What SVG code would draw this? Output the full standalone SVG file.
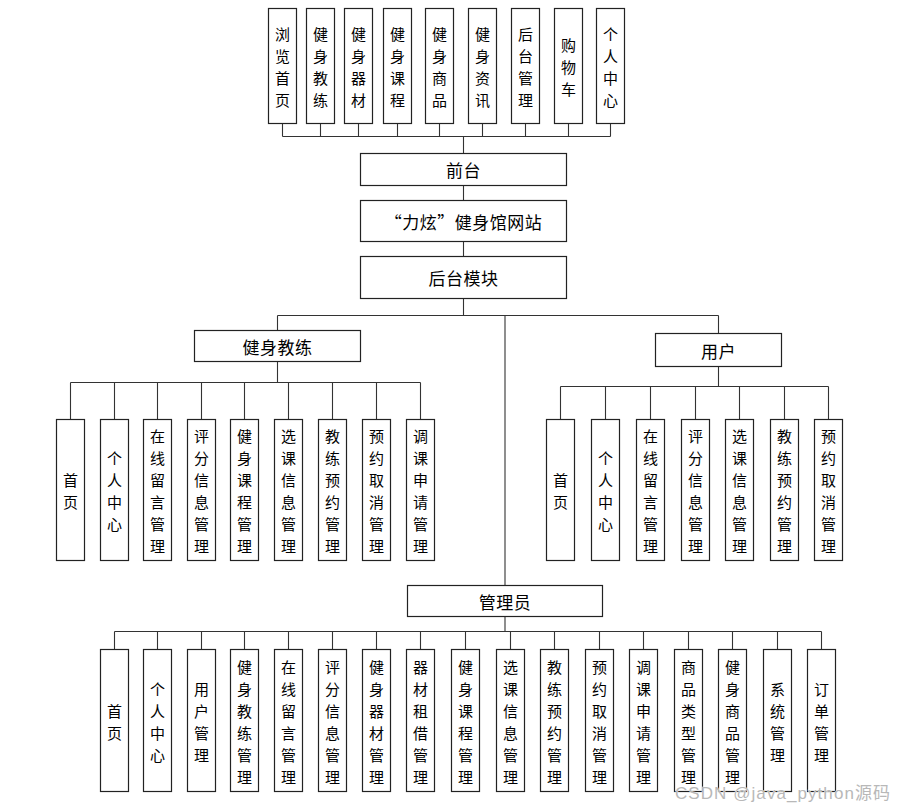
<svg xmlns="http://www.w3.org/2000/svg" width="904" height="810" viewBox="0 0 904 810">
<style>
.b{fill:#fff;stroke:#222;stroke-width:1.2}
.c{fill:none;stroke:#333;stroke-width:1.1}
.v{font-family:"Noto Sans CJK SC","Noto Sans",sans-serif;font-size:15px;fill:#000;text-anchor:middle;dominant-baseline:central}
.h{font-family:"Noto Sans CJK SC","Noto Sans",sans-serif;font-size:17px;fill:#000;text-anchor:middle;dominant-baseline:central;letter-spacing:0.5px}
.wm{font-family:"Liberation Sans","Noto Sans CJK SC",sans-serif;font-size:17px;fill:#b8b8b8;stroke:#fff;stroke-width:0.6;paint-order:stroke}
</style>
<rect width="904" height="810" fill="#fff"/>
<g id="connectors">
<path class="c" d="M282.5 123.5V136.5M320.5 123.5V136.5M358.5 123.5V136.5M397.5 123.5V136.5M439.5 123.5V136.5M482.5 123.5V136.5M525.5 123.5V136.5M568.5 123.5V136.5M610.5 123.5V136.5M282.5 136.5H610.5M463.5 136.5V153.5"/>
<path class="c" d="M463.5 185.5V200.5M463.5 241.5V256.5M463.5 298.5V315.5M277.5 315.5H718.5M277.5 315.5V330.5M718.5 315.5V333.5M505 315.5V585.5"/>
<path class="c" d="M277.5 361.5V382.5M70.5 382.5H420.5M70.5 382.5V419.5M114.5 382.5V419.5M157.5 382.5V419.5M201.5 382.5V419.5M244.5 382.5V419.5M288.5 382.5V419.5M332.5 382.5V419.5M376.5 382.5V419.5M420.5 382.5V419.5"/>
<path class="c" d="M718.5 366.5V386.5M560.5 386.5H828.5M560.5 386.5V419.5M605.5 386.5V419.5M650.5 386.5V419.5M695.5 386.5V419.5M739.5 386.5V419.5M784.5 386.5V419.5M828.5 386.5V419.5"/>
<path class="c" d="M505 616.5V631.5M114.5 631.5H821.5M114.5 631.5V649.5M157.5 631.5V649.5M201.5 631.5V649.5M244.5 631.5V649.5M288.5 631.5V649.5M332.5 631.5V649.5M376.5 631.5V649.5M420.5 631.5V649.5M465.5 631.5V649.5M510.5 631.5V649.5M554.5 631.5V649.5M599.5 631.5V649.5M643.5 631.5V649.5M688.5 631.5V649.5M732.5 631.5V649.5M777.5 631.5V649.5M821.5 631.5V649.5"/>
</g>
<g id="top">
<g id="t1"><rect class="b" x="268.5" y="8.5" width="28" height="115"/><text class="v"><tspan x="282.5" y="33">浏</tspan><tspan x="282.5" y="55">览</tspan><tspan x="282.5" y="77">首</tspan><tspan x="282.5" y="99">页</tspan></text></g>
<g id="t2"><rect class="b" x="306.5" y="8.5" width="28" height="115"/><text class="v"><tspan x="320.5" y="33">健</tspan><tspan x="320.5" y="55">身</tspan><tspan x="320.5" y="77">教</tspan><tspan x="320.5" y="99">练</tspan></text></g>
<g id="t3"><rect class="b" x="344.5" y="8.5" width="28" height="115"/><text class="v"><tspan x="358.5" y="33">健</tspan><tspan x="358.5" y="55">身</tspan><tspan x="358.5" y="77">器</tspan><tspan x="358.5" y="99">材</tspan></text></g>
<g id="t4"><rect class="b" x="383.5" y="8.5" width="28" height="115"/><text class="v"><tspan x="397.5" y="33">健</tspan><tspan x="397.5" y="55">身</tspan><tspan x="397.5" y="77">课</tspan><tspan x="397.5" y="99">程</tspan></text></g>
<g id="t5"><rect class="b" x="425.5" y="8.5" width="28" height="115"/><text class="v"><tspan x="439.5" y="33">健</tspan><tspan x="439.5" y="55">身</tspan><tspan x="439.5" y="77">商</tspan><tspan x="439.5" y="99">品</tspan></text></g>
<g id="t6"><rect class="b" x="468.5" y="8.5" width="28" height="115"/><text class="v"><tspan x="482.5" y="33">健</tspan><tspan x="482.5" y="55">身</tspan><tspan x="482.5" y="77">资</tspan><tspan x="482.5" y="99">讯</tspan></text></g>
<g id="t7"><rect class="b" x="511.5" y="8.5" width="28" height="115"/><text class="v"><tspan x="525.5" y="33">后</tspan><tspan x="525.5" y="55">台</tspan><tspan x="525.5" y="77">管</tspan><tspan x="525.5" y="99">理</tspan></text></g>
<g id="t8"><rect class="b" x="554.5" y="8.5" width="28" height="115"/><text class="v"><tspan x="568.5" y="44">购</tspan><tspan x="568.5" y="66">物</tspan><tspan x="568.5" y="88">车</tspan></text></g>
<g id="t9"><rect class="b" x="596.5" y="8.5" width="28" height="115"/><text class="v"><tspan x="610.5" y="33">个</tspan><tspan x="610.5" y="55">人</tspan><tspan x="610.5" y="77">中</tspan><tspan x="610.5" y="99">心</tspan></text></g>
</g>
<g id="qiantai"><rect class="b" x="360.5" y="153.5" width="206" height="32"/><text class="h" x="463.5" y="169.5">前台</text></g>
<g id="site"><rect class="b" x="360.5" y="200.5" width="206" height="41"/><text class="h" x="463.5" y="221">“力炫”健身馆网站</text></g>
<g id="houtai"><rect class="b" x="360.5" y="256.5" width="206" height="42"/><text class="h" x="463.5" y="277.5">后台模块</text></g>
<g id="coach"><rect class="b" x="194.5" y="330.5" width="166" height="31"/><text class="h" x="277.5" y="346">健身教练</text></g>
<g id="user"><rect class="b" x="655.5" y="333.5" width="126" height="33"/><text class="h" x="718.5" y="350">用户</text></g>
<g id="admin"><rect class="b" x="407.5" y="585.5" width="195" height="31"/><text class="h" x="505" y="601">管理员</text></g>
<g id="coach-children">
<g id="c1"><rect class="b" x="56.5" y="419.5" width="28" height="141"/><text class="v"><tspan x="70.5" y="479">首</tspan><tspan x="70.5" y="501">页</tspan></text></g>
<g id="c2"><rect class="b" x="100.5" y="419.5" width="28" height="141"/><text class="v"><tspan x="114.5" y="457">个</tspan><tspan x="114.5" y="479">人</tspan><tspan x="114.5" y="501">中</tspan><tspan x="114.5" y="523">心</tspan></text></g>
<g id="c3"><rect class="b" x="143.5" y="419.5" width="28" height="141"/><text class="v"><tspan x="157.5" y="435">在</tspan><tspan x="157.5" y="457">线</tspan><tspan x="157.5" y="479">留</tspan><tspan x="157.5" y="501">言</tspan><tspan x="157.5" y="523">管</tspan><tspan x="157.5" y="545">理</tspan></text></g>
<g id="c4"><rect class="b" x="187.5" y="419.5" width="28" height="141"/><text class="v"><tspan x="201.5" y="435">评</tspan><tspan x="201.5" y="457">分</tspan><tspan x="201.5" y="479">信</tspan><tspan x="201.5" y="501">息</tspan><tspan x="201.5" y="523">管</tspan><tspan x="201.5" y="545">理</tspan></text></g>
<g id="c5"><rect class="b" x="230.5" y="419.5" width="28" height="141"/><text class="v"><tspan x="244.5" y="435">健</tspan><tspan x="244.5" y="457">身</tspan><tspan x="244.5" y="479">课</tspan><tspan x="244.5" y="501">程</tspan><tspan x="244.5" y="523">管</tspan><tspan x="244.5" y="545">理</tspan></text></g>
<g id="c6"><rect class="b" x="274.5" y="419.5" width="28" height="141"/><text class="v"><tspan x="288.5" y="435">选</tspan><tspan x="288.5" y="457">课</tspan><tspan x="288.5" y="479">信</tspan><tspan x="288.5" y="501">息</tspan><tspan x="288.5" y="523">管</tspan><tspan x="288.5" y="545">理</tspan></text></g>
<g id="c7"><rect class="b" x="318.5" y="419.5" width="28" height="141"/><text class="v"><tspan x="332.5" y="435">教</tspan><tspan x="332.5" y="457">练</tspan><tspan x="332.5" y="479">预</tspan><tspan x="332.5" y="501">约</tspan><tspan x="332.5" y="523">管</tspan><tspan x="332.5" y="545">理</tspan></text></g>
<g id="c8"><rect class="b" x="362.5" y="419.5" width="28" height="141"/><text class="v"><tspan x="376.5" y="435">预</tspan><tspan x="376.5" y="457">约</tspan><tspan x="376.5" y="479">取</tspan><tspan x="376.5" y="501">消</tspan><tspan x="376.5" y="523">管</tspan><tspan x="376.5" y="545">理</tspan></text></g>
<g id="c9"><rect class="b" x="406.5" y="419.5" width="28" height="141"/><text class="v"><tspan x="420.5" y="435">调</tspan><tspan x="420.5" y="457">课</tspan><tspan x="420.5" y="479">申</tspan><tspan x="420.5" y="501">请</tspan><tspan x="420.5" y="523">管</tspan><tspan x="420.5" y="545">理</tspan></text></g>
</g>
<g id="user-children">
<g id="u1"><rect class="b" x="546.5" y="419.5" width="28" height="141"/><text class="v"><tspan x="560.5" y="479">首</tspan><tspan x="560.5" y="501">页</tspan></text></g>
<g id="u2"><rect class="b" x="591.5" y="419.5" width="28" height="141"/><text class="v"><tspan x="605.5" y="457">个</tspan><tspan x="605.5" y="479">人</tspan><tspan x="605.5" y="501">中</tspan><tspan x="605.5" y="523">心</tspan></text></g>
<g id="u3"><rect class="b" x="636.5" y="419.5" width="28" height="141"/><text class="v"><tspan x="650.5" y="435">在</tspan><tspan x="650.5" y="457">线</tspan><tspan x="650.5" y="479">留</tspan><tspan x="650.5" y="501">言</tspan><tspan x="650.5" y="523">管</tspan><tspan x="650.5" y="545">理</tspan></text></g>
<g id="u4"><rect class="b" x="681.5" y="419.5" width="28" height="141"/><text class="v"><tspan x="695.5" y="435">评</tspan><tspan x="695.5" y="457">分</tspan><tspan x="695.5" y="479">信</tspan><tspan x="695.5" y="501">息</tspan><tspan x="695.5" y="523">管</tspan><tspan x="695.5" y="545">理</tspan></text></g>
<g id="u5"><rect class="b" x="725.5" y="419.5" width="28" height="141"/><text class="v"><tspan x="739.5" y="435">选</tspan><tspan x="739.5" y="457">课</tspan><tspan x="739.5" y="479">信</tspan><tspan x="739.5" y="501">息</tspan><tspan x="739.5" y="523">管</tspan><tspan x="739.5" y="545">理</tspan></text></g>
<g id="u6"><rect class="b" x="770.5" y="419.5" width="28" height="141"/><text class="v"><tspan x="784.5" y="435">教</tspan><tspan x="784.5" y="457">练</tspan><tspan x="784.5" y="479">预</tspan><tspan x="784.5" y="501">约</tspan><tspan x="784.5" y="523">管</tspan><tspan x="784.5" y="545">理</tspan></text></g>
<g id="u7"><rect class="b" x="814.5" y="419.5" width="28" height="141"/><text class="v"><tspan x="828.5" y="435">预</tspan><tspan x="828.5" y="457">约</tspan><tspan x="828.5" y="479">取</tspan><tspan x="828.5" y="501">消</tspan><tspan x="828.5" y="523">管</tspan><tspan x="828.5" y="545">理</tspan></text></g>
</g>
<g id="admin-children">
<g id="a1"><rect class="b" x="100.5" y="649.5" width="28" height="142"/><text class="v"><tspan x="114.5" y="709.5">首</tspan><tspan x="114.5" y="731.5">页</tspan></text></g>
<g id="a2"><rect class="b" x="143.5" y="649.5" width="28" height="142"/><text class="v"><tspan x="157.5" y="687.5">个</tspan><tspan x="157.5" y="709.5">人</tspan><tspan x="157.5" y="731.5">中</tspan><tspan x="157.5" y="753.5">心</tspan></text></g>
<g id="a3"><rect class="b" x="187.5" y="649.5" width="28" height="142"/><text class="v"><tspan x="201.5" y="687.5">用</tspan><tspan x="201.5" y="709.5">户</tspan><tspan x="201.5" y="731.5">管</tspan><tspan x="201.5" y="753.5">理</tspan></text></g>
<g id="a4"><rect class="b" x="230.5" y="649.5" width="28" height="142"/><text class="v"><tspan x="244.5" y="665.5">健</tspan><tspan x="244.5" y="687.5">身</tspan><tspan x="244.5" y="709.5">教</tspan><tspan x="244.5" y="731.5">练</tspan><tspan x="244.5" y="753.5">管</tspan><tspan x="244.5" y="775.5">理</tspan></text></g>
<g id="a5"><rect class="b" x="274.5" y="649.5" width="28" height="142"/><text class="v"><tspan x="288.5" y="665.5">在</tspan><tspan x="288.5" y="687.5">线</tspan><tspan x="288.5" y="709.5">留</tspan><tspan x="288.5" y="731.5">言</tspan><tspan x="288.5" y="753.5">管</tspan><tspan x="288.5" y="775.5">理</tspan></text></g>
<g id="a6"><rect class="b" x="318.5" y="649.5" width="28" height="142"/><text class="v"><tspan x="332.5" y="665.5">评</tspan><tspan x="332.5" y="687.5">分</tspan><tspan x="332.5" y="709.5">信</tspan><tspan x="332.5" y="731.5">息</tspan><tspan x="332.5" y="753.5">管</tspan><tspan x="332.5" y="775.5">理</tspan></text></g>
<g id="a7"><rect class="b" x="362.5" y="649.5" width="28" height="142"/><text class="v"><tspan x="376.5" y="665.5">健</tspan><tspan x="376.5" y="687.5">身</tspan><tspan x="376.5" y="709.5">器</tspan><tspan x="376.5" y="731.5">材</tspan><tspan x="376.5" y="753.5">管</tspan><tspan x="376.5" y="775.5">理</tspan></text></g>
<g id="a8"><rect class="b" x="406.5" y="649.5" width="28" height="142"/><text class="v"><tspan x="420.5" y="665.5">器</tspan><tspan x="420.5" y="687.5">材</tspan><tspan x="420.5" y="709.5">租</tspan><tspan x="420.5" y="731.5">借</tspan><tspan x="420.5" y="753.5">管</tspan><tspan x="420.5" y="775.5">理</tspan></text></g>
<g id="a9"><rect class="b" x="451.5" y="649.5" width="28" height="142"/><text class="v"><tspan x="465.5" y="665.5">健</tspan><tspan x="465.5" y="687.5">身</tspan><tspan x="465.5" y="709.5">课</tspan><tspan x="465.5" y="731.5">程</tspan><tspan x="465.5" y="753.5">管</tspan><tspan x="465.5" y="775.5">理</tspan></text></g>
<g id="a10"><rect class="b" x="496.5" y="649.5" width="28" height="142"/><text class="v"><tspan x="510.5" y="665.5">选</tspan><tspan x="510.5" y="687.5">课</tspan><tspan x="510.5" y="709.5">信</tspan><tspan x="510.5" y="731.5">息</tspan><tspan x="510.5" y="753.5">管</tspan><tspan x="510.5" y="775.5">理</tspan></text></g>
<g id="a11"><rect class="b" x="540.5" y="649.5" width="28" height="142"/><text class="v"><tspan x="554.5" y="665.5">教</tspan><tspan x="554.5" y="687.5">练</tspan><tspan x="554.5" y="709.5">预</tspan><tspan x="554.5" y="731.5">约</tspan><tspan x="554.5" y="753.5">管</tspan><tspan x="554.5" y="775.5">理</tspan></text></g>
<g id="a12"><rect class="b" x="585.5" y="649.5" width="28" height="142"/><text class="v"><tspan x="599.5" y="665.5">预</tspan><tspan x="599.5" y="687.5">约</tspan><tspan x="599.5" y="709.5">取</tspan><tspan x="599.5" y="731.5">消</tspan><tspan x="599.5" y="753.5">管</tspan><tspan x="599.5" y="775.5">理</tspan></text></g>
<g id="a13"><rect class="b" x="629.5" y="649.5" width="28" height="142"/><text class="v"><tspan x="643.5" y="665.5">调</tspan><tspan x="643.5" y="687.5">课</tspan><tspan x="643.5" y="709.5">申</tspan><tspan x="643.5" y="731.5">请</tspan><tspan x="643.5" y="753.5">管</tspan><tspan x="643.5" y="775.5">理</tspan></text></g>
<g id="a14"><rect class="b" x="674.5" y="649.5" width="28" height="142"/><text class="v"><tspan x="688.5" y="665.5">商</tspan><tspan x="688.5" y="687.5">品</tspan><tspan x="688.5" y="709.5">类</tspan><tspan x="688.5" y="731.5">型</tspan><tspan x="688.5" y="753.5">管</tspan><tspan x="688.5" y="775.5">理</tspan></text></g>
<g id="a15"><rect class="b" x="718.5" y="649.5" width="28" height="142"/><text class="v"><tspan x="732.5" y="665.5">健</tspan><tspan x="732.5" y="687.5">身</tspan><tspan x="732.5" y="709.5">商</tspan><tspan x="732.5" y="731.5">品</tspan><tspan x="732.5" y="753.5">管</tspan><tspan x="732.5" y="775.5">理</tspan></text></g>
<g id="a16"><rect class="b" x="763.5" y="649.5" width="28" height="142"/><text class="v"><tspan x="777.5" y="687.5">系</tspan><tspan x="777.5" y="709.5">统</tspan><tspan x="777.5" y="731.5">管</tspan><tspan x="777.5" y="753.5">理</tspan></text></g>
<g id="a17"><rect class="b" x="807.5" y="649.5" width="28" height="142"/><text class="v"><tspan x="821.5" y="687.5">订</tspan><tspan x="821.5" y="709.5">单</tspan><tspan x="821.5" y="731.5">管</tspan><tspan x="821.5" y="753.5">理</tspan></text></g>
</g>
<text class="wm" x="675" y="799" textLength="215">CSDN @java_python源码</text>
</svg>
